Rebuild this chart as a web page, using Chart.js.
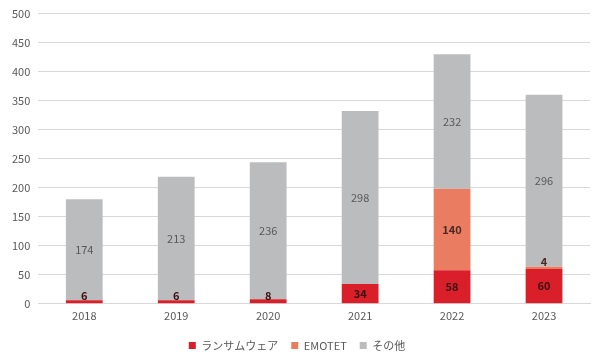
<!DOCTYPE html>
<html>
<head>
<meta charset="utf-8">
<script src="https://cdn.jsdelivr.net/npm/chart.js@4/dist/chart.umd.min.js"></script>
<style>
  html, body { margin: 0; padding: 0; background: #fff; }
  #container { width: 600px; height: 360px; }
</style>
</head>
<body>
<div id="container"><canvas id="myChart"></canvas></div>
<script>
// data
let years = ['2018', '2019', '2020', '2021', '2022', '2023'];
let ransomware = [6, 6, 8, 34, 58, 60];
let emotet = [0, 0, 0, 0, 140, 4];
let others = [174, 213, 236, 298, 232, 296];
let yTicks = [0, 50, 100, 150, 200, 250, 300, 350, 400, 450, 500];

let ransomColor = '#D9202A';
let emotetColor = '#E97C61';
let otherColor = '#BBBCBE';
let textColor = '#595959';
let fontFamily = '"Noto Sans CJK JP", "Noto Sans", sans-serif';

// draws the value inside each segment (no datalabels plugin offline)
let segmentLabels = {
  id: 'segmentLabels',
  afterDatasetsDraw(chart) {
    let ctx = chart.ctx;
    ctx.save();
    ctx.textAlign = 'center';
    ctx.textBaseline = 'middle';
    chart.data.datasets.forEach(function (ds, i) {
      let meta = chart.getDatasetMeta(i);
      meta.data.forEach(function (bar, j) {
        let v = ds.data[j];
        if (!v) return;
        let y = (bar.y + bar.base) / 2;
        if (bar.base - bar.y < 14) y = bar.base - 7;
        ctx.font = (ds.labelBold ? 'bold ' : '') + '11px ' + fontFamily;
        ctx.fillStyle = ds.labelColor;
        ctx.fillText(String(v), bar.x, y);
      });
    });
    ctx.restore();
  }
};

let ctx = document.getElementById('myChart').getContext('2d');
let chart = new Chart(ctx, {
  type: 'bar',
  data: {
    labels: years,
    datasets: [
      { label: 'ランサムウェア', data: ransomware, backgroundColor: ransomColor, labelColor: '#3a1010', labelBold: true },
      { label: 'EMOTET', data: emotet, backgroundColor: emotetColor, labelColor: '#4a2a22', labelBold: true },
      { label: 'その他', data: others, backgroundColor: otherColor, labelColor: textColor, labelBold: false }
    ]
  },
  options: {
    responsive: true,
    maintainAspectRatio: false,
    animation: false,
    layout: { padding: { top: 12, right: 10, left: 4, bottom: -1 } },
    datasets: { bar: { categoryPercentage: 1, barPercentage: 0.4 } },
    scales: {
      x: {
        stacked: true,
        grid: { display: false, drawTicks: false },
        border: { display: true, color: '#d9d9d9' },
        ticks: { color: textColor, padding: 5, font: { family: fontFamily, size: 11 } }
      },
      y: {
        stacked: true,
        min: 0,
        max: 500,
        afterBuildTicks: function (axis) { axis.ticks = yTicks.map(function (v) { return { value: v }; }); },
        grid: { color: '#d9d9d9', drawTicks: false },
        border: { display: false },
        ticks: { color: textColor, padding: 8, font: { family: fontFamily, size: 11, lineHeight: 1 } }
      }
    },
    plugins: {
      legend: {
        position: 'bottom',
        labels: {
          boxWidth: 7,
          boxHeight: 7,
          padding: 13,
          color: textColor,
          font: { family: fontFamily, size: 11 }
        }
      },
      tooltip: { enabled: false }
    }
  },
  plugins: [segmentLabels]
});
</script>
</body>
</html>
